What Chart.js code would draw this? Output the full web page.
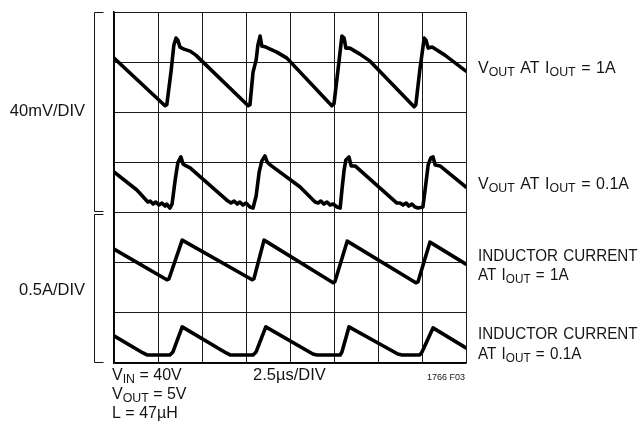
<!DOCTYPE html>
<html>
<head>
<meta charset="utf-8">
<title>LT1766 Switching Waveforms</title>
<script src="https://cdn.jsdelivr.net/npm/chart.js@4.4.1/dist/chart.umd.min.js"></script>
<style>
  html, body { margin: 0; padding: 0; background: #fff; }
  #wrap { width: 642px; height: 432px; position: relative; }
</style>
</head>
<body>
<div id="wrap"><canvas id="scope" width="642" height="432"></canvas></div>
<script>
// Scope traces, [time (div), level (div)] with 2.5µs per horizontal division.
const voutHeavyLoad = [
  [0.00,6.08],[1.16,5.13],[1.20,5.15],[1.30,5.84],[1.36,6.34],[1.41,6.48],[1.45,6.44],[1.50,6.30],
  [1.59,6.26],[1.73,6.22],[1.86,6.14],[2.00,6.02],[3.05,5.13],[3.09,5.15],[3.16,5.80],[3.23,6.04],
  [3.27,6.34],[3.32,6.52],[3.36,6.32],[3.45,6.30],[3.70,6.20],[3.93,6.08],[4.95,5.13],[5.00,5.17],
  [5.09,5.84],[5.18,6.52],[5.23,6.48],[5.27,6.28],[5.36,6.28],[5.59,6.16],[5.82,6.02],[6.82,5.11],
  [6.86,5.15],[6.95,5.84],[7.05,6.48],[7.09,6.44],[7.14,6.28],[7.23,6.30],[7.52,6.14],[8.00,5.82]
];
const voutLightLoad = [
  [0.00,3.81],[0.52,3.45],[0.77,3.21],[0.82,3.23],[0.89,3.17],[0.95,3.21],[1.02,3.15],[1.09,3.19],
  [1.16,3.13],[1.20,3.17],[1.27,3.09],[1.32,3.17],[1.39,3.65],[1.45,3.99],[1.52,4.11],[1.57,3.97],
  [1.64,3.93],[1.73,3.89],[2.59,3.23],[2.66,3.19],[2.73,3.23],[2.80,3.17],[2.86,3.21],[2.93,3.15],
  [3.00,3.19],[3.09,3.11],[3.16,3.09],[3.23,3.33],[3.30,3.81],[3.36,4.03],[3.43,4.13],[3.48,4.01],
  [3.55,3.95],[3.61,3.91],[4.23,3.51],[4.57,3.21],[4.64,3.19],[4.70,3.23],[4.77,3.17],[4.84,3.21],
  [4.91,3.15],[4.98,3.17],[5.07,3.11],[5.14,3.09],[5.18,3.45],[5.23,3.85],[5.27,4.05],[5.34,4.11],
  [5.39,3.93],[5.48,3.93],[6.43,3.19],[6.50,3.19],[6.57,3.15],[6.64,3.19],[6.70,3.13],[6.77,3.17],
  [6.84,3.11],[6.91,3.09],[7.02,3.11],[7.07,3.45],[7.14,3.95],[7.20,4.09],[7.25,4.11],[7.30,3.95],
  [7.41,3.93],[8.00,3.51]
];
const inductorHeavyLoad = [
  [0.00,2.27],[1.20,1.66],[1.25,1.68],[1.55,2.45],[3.14,1.66],[3.18,1.68],[3.41,2.45],
  [4.98,1.60],[5.02,1.62],[5.30,2.43],[6.86,1.60],[6.91,1.62],[7.18,2.41],[8.00,1.97]
];
const inductorLightLoad = [
  [0.00,0.54],[0.66,0.20],[0.75,0.16],[1.27,0.16],[1.34,0.22],[1.55,0.72],[2.55,0.20],[2.64,0.16],
  [3.16,0.16],[3.23,0.22],[3.45,0.72],[4.52,0.18],[4.61,0.16],[5.14,0.16],[5.18,0.22],[5.34,0.72],
  [6.45,0.18],[6.55,0.16],[6.95,0.16],[7.00,0.22],[7.25,0.70],[8.00,0.30]
];

// Text; "_{...}" marks a subscript.
const traceLabels = [
  ['V_{OUT} AT I_{OUT} = 1A'],
  ['V_{OUT} AT I_{OUT} = 0.1A'],
  ['INDUCTOR CURRENT', 'AT I_{OUT} = 1A'],
  ['INDUCTOR CURRENT', 'AT I_{OUT} = 0.1A']
];
const scaleLabels = ['40mV/DIV', '0.5A/DIV'];
const conditionLabels = ['V_{IN} = 40V', 'V_{OUT} = 5V', 'L = 47\u00b5H'];
const timebaseLabel = '2.5\u00b5s/DIV';
const figureLabel = '1766 F03';

const FONT = '"Liberation Sans", Arial, sans-serif';

function toPoints(arr) { return arr.map(([x, y]) => ({ x, y })); }

// Draws a line of text with subscripts, an adjustable word gap and an
// optional horizontal squeeze.
function drawRich(ctx, str, x, y, size, align, opts) {
  const hscale = (opts && opts.hscale) || 1;
  const gapScale = (opts && opts.gap) || 1;
  const runs = [];
  const re = /_\{([^}]*)\}/g;
  let last = 0, m;
  while ((m = re.exec(str)) !== null) {
    if (m.index > last) runs.push([str.slice(last, m.index), false]);
    runs.push([m[1], true]);
    last = re.lastIndex;
  }
  if (last < str.length) runs.push([str.slice(last), false]);

  const subSize = Math.round(size * 0.82);
  const subScale = 0.95;
  const tokens = [];
  for (const [t, sub] of runs) {
    const pieces = t.split(' ');
    pieces.forEach((p, i) => {
      if (i > 0) tokens.push({ gap: true, sub });
      if (p) tokens.push({ text: p, sub });
    });
  }
  const width = (tk) => {
    ctx.font = (tk.sub ? subSize : size) + 'px ' + FONT;
    if (tk.gap) return ctx.measureText(' ').width * gapScale;
    return ctx.measureText(tk.text).width * (tk.sub ? subScale : 1);
  };
  const total = tokens.reduce((s, tk) => s + width(tk), 0) * hscale;
  const startX = align === 'right' ? x - total : x;

  ctx.save();
  ctx.translate(startX, y);
  ctx.scale(hscale, 1);
  ctx.textAlign = 'left';
  ctx.textBaseline = 'alphabetic';
  let cx = 0;
  for (const tk of tokens) {
    const w = width(tk);
    if (!tk.gap) {
      if (tk.sub) {
        ctx.save();
        ctx.translate(cx, 3);
        ctx.scale(subScale, 1);
        ctx.fillText(tk.text, 0, 0);
        ctx.restore();
      } else {
        ctx.fillText(tk.text, cx, 0);
      }
    }
    cx += w;
  }
  ctx.restore();
}

const annotationPlugin = {
  id: 'scopeAnnotations',
  afterDraw(chart) {
    const { ctx, chartArea: a, scales } = chart;
    const ys = scales.y;
    ctx.save();
    ctx.fillStyle = '#151515';
    ctx.strokeStyle = '#151515';

    // Channel brackets on the left: voltage traces above, current traces below
    ctx.lineWidth = 1;
    const bx = a.left - 19.5;
    const tick = 9;
    const split = ys.getPixelForValue(3);
    const brackets = [[a.top, split - 2], [split + 1, a.bottom - 1]];
    for (const [t, b] of brackets) {
      ctx.beginPath();
      ctx.moveTo(bx + tick, Math.round(t) + 0.5);
      ctx.lineTo(bx, Math.round(t) + 0.5);
      ctx.lineTo(bx, Math.round(b) + 0.5);
      ctx.lineTo(bx + tick, Math.round(b) + 0.5);
      ctx.stroke();
    }

    // Vertical sensitivity labels
    drawRich(ctx, scaleLabels[0], a.left - 29, ys.getPixelForValue(4.92), 16.5, 'right');
    drawRich(ctx, scaleLabels[1], a.left - 29, ys.getPixelForValue(1.36), 16.5, 'right');

    // Trace names on the right
    const rx = a.right + 12;
    const anchors = [[5.79], [3.48], [2.03, 1.65], [0.47, 0.07]];
    const squeeze = [1, 1, 0.95, 0.95];
    traceLabels.forEach((lines, i) => {
      lines.forEach((line, j) => {
        drawRich(ctx, line, rx, ys.getPixelForValue(anchors[i][j]), 16, 'left',
          { hscale: squeeze[i], gap: 1.25 });
      });
    });

    // Operating conditions and timebase under the graticule
    conditionLabels.forEach((line, i) => {
      drawRich(ctx, line, a.left - 2, a.bottom + 17 + i * 19, 16, 'left');
    });
    drawRich(ctx, timebaseLabel, a.left + 139, a.bottom + 17, 16.5, 'left');
    drawRich(ctx, figureLabel, a.right - 1, a.bottom + 17, 9, 'right');
    ctx.restore();
  }
};

const traceStyle = {
  borderColor: '#000',
  borderWidth: 3.6,
  pointRadius: 0,
  pointHoverRadius: 0,
  showLine: true,
  tension: 0,
  borderJoinStyle: 'round',
  borderCapStyle: 'round',
  fill: false
};

new Chart(document.getElementById('scope'), {
  type: 'scatter',
  data: {
    datasets: [
      { label: 'VOUT 1A', data: toPoints(voutHeavyLoad), ...traceStyle },
      { label: 'VOUT 0.1A', data: toPoints(voutLightLoad), ...traceStyle },
      { label: 'IL 1A', data: toPoints(inductorHeavyLoad), ...traceStyle },
      { label: 'IL 0.1A', data: toPoints(inductorLightLoad), ...traceStyle }
    ]
  },
  options: {
    responsive: false,
    devicePixelRatio: 1,
    animation: false,
    events: [],
    layout: { padding: { left: 114, right: 176, top: 12, bottom: 69 } },
    plugins: { legend: { display: false }, tooltip: { enabled: false } },
    scales: {
      x: {
        type: 'linear', min: 0, max: 8,
        ticks: { display: false, stepSize: 1 },
        grid: { color: '#1a1a1a', lineWidth: 1, drawTicks: false },
        border: { display: true, color: '#000', width: 1.5 }
      },
      y: {
        type: 'linear', min: 0, max: 7,
        ticks: { display: false, stepSize: 1 },
        grid: { color: '#1a1a1a', lineWidth: 1, drawTicks: false },
        border: { display: true, color: '#000', width: 1.5 }
      }
    }
  },
  plugins: [annotationPlugin]
});
</script>
</body>
</html>
